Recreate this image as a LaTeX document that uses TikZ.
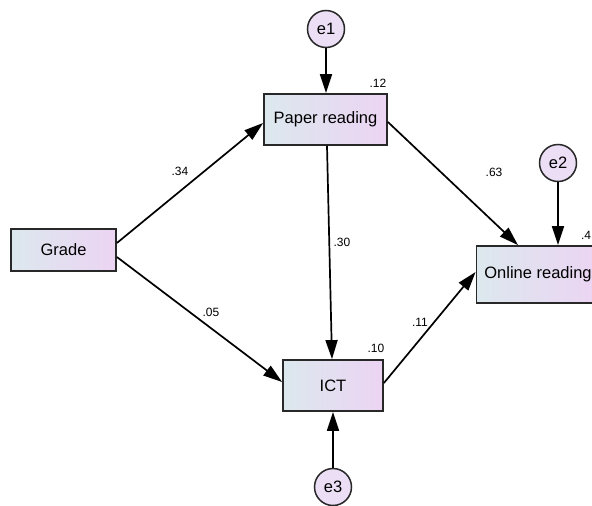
\documentclass[tikz,border=0pt]{standalone}
\usepackage{fontspec}
\setmainfont{Liberation Sans}
\usetikzlibrary{arrows.meta}

\definecolor{boxleft}{RGB}{220,232,238}
\definecolor{boxright}{RGB}{236,212,243}
\definecolor{errfill}{RGB}{235,222,245}
\definecolor{edge}{RGB}{40,40,40}

\begin{document}
\begin{tikzpicture}[x=1pt, y=-1pt,
        var/.style={draw=edge, line width=1.8pt, left color=boxleft, right color=boxright,
            font=\fontsize{16.5}{18}\selectfont, inner sep=0pt},
        err/.style={circle, draw=edge, line width=1.5pt, fill=errfill, minimum size=37pt,
            inner sep=0pt, font=\fontsize{16.5}{18}\selectfont},
        coef/.style={font=\fontsize{12}{14}\selectfont},
        effect/.style={draw=black, line width=1.7pt, -{Triangle[length=19pt, width=12pt]}}]

        \useasboundingbox (0,0) rectangle (592,506);

        % === Variabili osservate ===
        \node[var, minimum width=105pt, minimum height=42pt] (grade) at (63.5, 250) {Grade};
        \node[var, minimum width=123pt, minimum height=51pt] (paper) at (325.5, 119.5) {Paper reading};
        \node[var, minimum width=100pt, minimum height=51pt] (ict) at (333, 385.5) {ICT};
        \node[var, minimum width=123pt, minimum height=57pt] (online) at (538, 274.5) {Online reading};

        % === Errori ===
        \node[err] (e1) at (326, 29) {e1};
        \node[err] (e2) at (558, 163) {e2};
        \node[err] (e3) at (333, 487) {e3};

        % Frecce errori
        \draw[effect] (e1.south) -- (e1 |- paper.north);
        \draw[effect] (e2.south) -- (e2 |- online.north);
        \draw[effect] (e3.north) -- (e3 |- ict.south);

        % Frecce strutturali
        \draw[effect] ([yshift=7pt]grade.east) -- ([yshift=-3.5pt]paper.west);
        \draw[effect] ([yshift=-7pt]grade.east) -- ([yshift=3.5pt]ict.west);
        \draw[effect] ([xshift=1.5pt]paper.south) -- ([xshift=-1pt]ict.north);
        \draw[effect] ([yshift=-2.5pt]paper.east) -- ([xshift=-20pt]online.north);
        \draw[effect] ([yshift=2.5pt]ict.east) -- ([yshift=2.5pt]online.west);

        % Coefficienti
        \node[coef] (c34) at (180, 171) {.34};
        \node[coef] (c05) at (211, 312) {.05};
        \node[coef] (c30) at (342, 242) {.30};
        \node[coef] (c63) at (494, 172) {.63};
        \node[coef] (c11) at (420, 322) {.11};

        % R quadrati
        \node[coef] (r12) at (378, 83) {.12};
        \node[coef] (r10) at (376, 348) {.10};
        \node[coef] (r4) at (586, 235) {.4};

    \end{tikzpicture}
\end{document}
